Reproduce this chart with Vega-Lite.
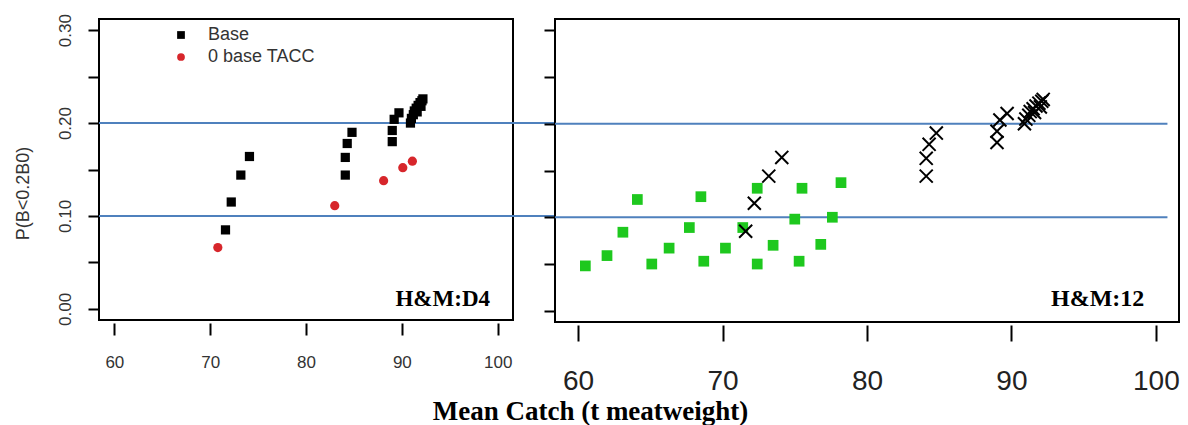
{
  "$schema": "https://vega.github.io/schema/vega-lite/v6.json",
  "background": "white",
  "padding": {"left": 13, "top": 12, "right": 0, "bottom": 0},
  "bounds": "flush",
  "spacing": 42,
  "config": {
    "view": {"stroke": "black", "strokeWidth": 2},
    "axis": {"grid": false, "domain": false, "tickColor": "black", "tickWidth": 2, "labelFont": "Liberation Sans", "labelColor": "#333", "titleFont": "Liberation Serif"}
  },
  "resolve": {"scale": {"color": "independent", "shape": "independent"}},
  "datasets": {
    "lines": [{"level": 0.1}, {"level": 0.2}],
    "pts": [
      {"series": "Base", "catch": 71.6, "p": 0.085},
      {"series": "Base", "catch": 72.2, "p": 0.115},
      {"series": "Base", "catch": 73.2, "p": 0.144},
      {"series": "Base", "catch": 74.1, "p": 0.164},
      {"series": "Base", "catch": 84.1, "p": 0.144},
      {"series": "Base", "catch": 84.1, "p": 0.163},
      {"series": "Base", "catch": 84.3, "p": 0.178},
      {"series": "Base", "catch": 84.8, "p": 0.190},
      {"series": "Base", "catch": 89.0, "p": 0.180},
      {"series": "Base", "catch": 89.0, "p": 0.192},
      {"series": "Base", "catch": 89.2, "p": 0.204},
      {"series": "Base", "catch": 89.7, "p": 0.211},
      {"series": "Base", "catch": 90.9, "p": 0.200},
      {"series": "Base", "catch": 91.0, "p": 0.205},
      {"series": "Base", "catch": 91.2, "p": 0.209},
      {"series": "Base", "catch": 91.3, "p": 0.213},
      {"series": "Base", "catch": 91.5, "p": 0.216},
      {"series": "Base", "catch": 91.6, "p": 0.212},
      {"series": "Base", "catch": 91.7, "p": 0.219},
      {"series": "Base", "catch": 91.9, "p": 0.222},
      {"series": "Base", "catch": 92.0, "p": 0.218},
      {"series": "Base", "catch": 92.1, "p": 0.224},
      {"series": "Base", "catch": 92.2, "p": 0.226},
      {"series": "0 base TACC", "catch": 70.8, "p": 0.066},
      {"series": "0 base TACC", "catch": 83.0, "p": 0.111},
      {"series": "0 base TACC", "catch": 88.1, "p": 0.138},
      {"series": "0 base TACC", "catch": 90.1, "p": 0.152},
      {"series": "0 base TACC", "catch": 91.1, "p": 0.159}
    ],
    "alt": [
      {"catch": 60.5, "p": 0.048},
      {"catch": 62.0, "p": 0.059},
      {"catch": 63.1, "p": 0.084},
      {"catch": 64.1, "p": 0.119},
      {"catch": 65.1, "p": 0.050},
      {"catch": 66.3, "p": 0.067},
      {"catch": 67.7, "p": 0.089},
      {"catch": 68.5, "p": 0.122},
      {"catch": 68.7, "p": 0.053},
      {"catch": 70.2, "p": 0.067},
      {"catch": 71.4, "p": 0.089},
      {"catch": 72.4, "p": 0.131},
      {"catch": 72.4, "p": 0.050},
      {"catch": 73.5, "p": 0.070},
      {"catch": 75.0, "p": 0.098},
      {"catch": 75.3, "p": 0.053},
      {"catch": 75.5, "p": 0.131},
      {"catch": 76.8, "p": 0.071},
      {"catch": 77.6, "p": 0.100},
      {"catch": 78.2, "p": 0.137}
    ]
  },
  "hconcat": [
    {
      "width": 414,
      "height": 301,
      "layer": [
        {
          "data": {"name": "lines"},
          "mark": {"type": "rule", "color": "#4f81bd", "strokeWidth": 2},
          "encoding": {
            "x": {"datum": 58.4, "type": "quantitative", "scale": {"domain": [58.4, 101.6], "nice": false, "zero": false}},
            "x2": {"datum": 105.9},
            "y": {"field": "level", "type": "quantitative", "scale": {"domain": [-0.012, 0.312], "nice": false, "zero": false}}
          }
        },
        {
          "data": {"name": "pts"},
          "mark": {"type": "point", "filled": true, "size": 85, "opacity": 1},
          "encoding": {
            "x": {"field": "catch", "type": "quantitative", "scale": {"domain": [58.4, 101.6], "nice": false, "zero": false},
              "axis": {"values": [60, 70, 80, 90, 100], "offset": 3, "tickSize": 12, "labelFontSize": 17, "labelPadding": 19, "title": null}},
            "y": {"field": "p", "type": "quantitative", "scale": {"domain": [-0.012, 0.312], "nice": false, "zero": false},
              "axis": {"values": [0, 0.05, 0.1, 0.15, 0.2, 0.25, 0.3], "tickSize": 11, "labelFontSize": 17, "labelAngle": -90, "labelPadding": 14,
                "labelExpr": "round(datum.value*100) % 10 == 0 ? format(datum.value, '.2f') : ''",
                "title": "P(B<0.2B0)", "titleFont": "Liberation Sans", "titleFontWeight": "normal", "titleFontSize": 18, "titleColor": "#333",
                "titleX": -76, "titleY": 174, "titleAngle": -90, "titleAlign": "center", "titleBaseline": "middle"}},
            "color": {"field": "series", "type": "nominal", "scale": {"domain": ["Base", "0 base TACC"], "range": ["black", "#d7262b"]},
              "legend": {"orient": "none", "legendX": 73, "legendY": 7, "title": null, "labelFontSize": 18, "labelFont": "Liberation Sans", "labelColor": "#333", "symbolSize": 60, "labelOffset": 18, "rowPadding": 4, "padding": 0}},
            "shape": {"field": "series", "type": "nominal", "scale": {"domain": ["Base", "0 base TACC"], "range": ["square", "circle"]},
              "legend": {"orient": "none", "legendX": 73, "legendY": 7, "title": null, "labelFontSize": 18, "labelFont": "Liberation Sans", "labelColor": "#333", "symbolSize": 60, "labelOffset": 18, "rowPadding": 4, "padding": 0}}
          }
        },
        {
          "data": {"values": [{"label": "H&M:D4"}]},
          "mark": {"type": "text", "font": "Liberation Serif", "fontWeight": "bold", "fontSize": 23, "align": "right", "baseline": "middle", "color": "black"},
          "encoding": {
            "text": {"field": "label"},
            "x": {"datum": 99.2, "type": "quantitative", "scale": {"domain": [58.4, 101.6], "nice": false, "zero": false}},
            "y": {"datum": 0.011, "type": "quantitative", "scale": {"domain": [-0.012, 0.312], "nice": false, "zero": false}}
          }
        }
      ]
    },
    {
      "width": 624,
      "height": 303,
      "layer": [
        {
          "data": {"name": "lines"},
          "mark": {"type": "rule", "color": "#4f81bd", "strokeWidth": 2},
          "encoding": {
            "x": {"datum": 58.4, "type": "quantitative", "scale": {"domain": [58.4, 101.6], "nice": false, "zero": false}},
            "x2": {"datum": 100.8},
            "y": {"field": "level", "type": "quantitative", "scale": {"domain": [-0.012, 0.312], "nice": false, "zero": false}}
          }
        },
        {
          "data": {"name": "alt"},
          "mark": {"type": "point", "shape": "square", "filled": true, "size": 115, "color": "#1ec81e", "opacity": 1},
          "encoding": {
            "x": {"field": "catch", "type": "quantitative", "scale": {"domain": [58.4, 101.6], "nice": false, "zero": false},
              "axis": {"values": [60, 70, 80, 90, 100], "offset": 3, "tickSize": 16, "labelFontSize": 28, "labelPadding": 26, "labelColor": "#222",
                "title": "Mean Catch (t meatweight)", "titleFont": "Liberation Serif", "titleFontWeight": "bold", "titleFontSize": 27, "titleColor": "black",
                "titleX": 35, "titleY": 86, "titleAlign": "center", "titleBaseline": "middle"}},
            "y": {"field": "p", "type": "quantitative", "scale": {"domain": [-0.012, 0.312], "nice": false, "zero": false},
              "axis": {"values": [0, 0.05, 0.1, 0.15, 0.2, 0.25, 0.3], "tickSize": 11, "labels": false, "title": null}}
          }
        },
        {
          "data": {"name": "pts"},
          "transform": [{"filter": "datum.series == 'Base'"}],
          "mark": {"type": "point", "shape": "M-1,-1L1,1M1,-1L-1,1", "filled": false, "stroke": "black", "strokeWidth": 2, "size": 170, "opacity": 1},
          "encoding": {
            "x": {"field": "catch", "type": "quantitative", "scale": {"domain": [58.4, 101.6], "nice": false, "zero": false}},
            "y": {"field": "p", "type": "quantitative", "scale": {"domain": [-0.012, 0.312], "nice": false, "zero": false}}
          }
        },
        {
          "data": {"values": [{"label": "H&M:12"}]},
          "mark": {"type": "text", "font": "Liberation Serif", "fontWeight": "bold", "fontSize": 24, "align": "right", "baseline": "middle", "color": "black"},
          "encoding": {
            "text": {"field": "label"},
            "x": {"datum": 99.2, "type": "quantitative", "scale": {"domain": [58.4, 101.6], "nice": false, "zero": false}},
            "y": {"datum": 0.0128, "type": "quantitative", "scale": {"domain": [-0.012, 0.312], "nice": false, "zero": false}}
          }
        }
      ]
    }
  ]
}
